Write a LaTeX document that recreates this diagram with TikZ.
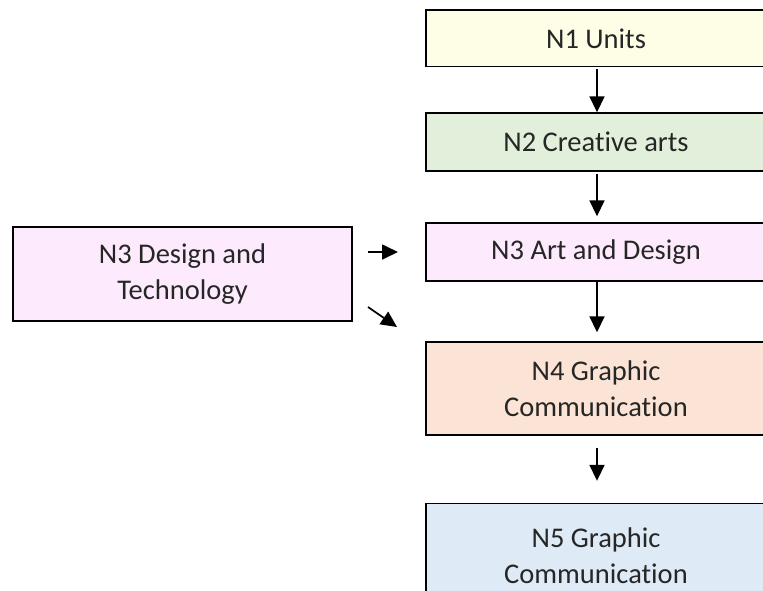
\documentclass[tikz,border=0pt]{standalone}
\usepackage{fontspec}
\setmainfont{Carlito}[RawFeature=-liga]
\usetikzlibrary{arrows.meta}
\definecolor{cyel}{HTML}{FEFDE6}
\definecolor{cgrn}{HTML}{E2EFDA}
\definecolor{cpnk}{HTML}{FDEBFD}
\definecolor{corg}{HTML}{FBE4D5}
\definecolor{cblu}{HTML}{DEEAF6}
\begin{document}
\begin{tikzpicture}[x=1pt,y=-1pt,
  box/.style={draw=black, line width=1.4pt, minimum width=340pt, align=center,
    inner sep=0pt, font=\fontsize{28.5}{36}\selectfont, text=black!85},
  arr/.style={line width=1.7pt, -{Triangle[length=16pt,width=15pt]}}]
\useasboundingbox (0,0) rectangle (763,590);
\node[box, fill=cyel, minimum height=56.5pt] (n1) at (596,38.3) {N1 Units};
\node[box, fill=cgrn, minimum height=58pt] (n2) at (596,142) {N2 Creative arts};
\node[box, fill=cpnk, minimum height=58pt] (n3) at (596,252) {N3 Art and Design};
\node[box, fill=corg, minimum height=93pt] (n4) at (596,388.5) {N4 Graphic\\Communication};
\node[box, fill=cblu, minimum height=105pt] (n5) at (596,556) {N5 Graphic\\Communication};
\node[box, fill=cpnk, minimum width=339pt, minimum height=94pt] (dt) at (182.5,274) {N3 Design and\\Technology};
\draw[arr, shorten <=2pt] ([xshift=1pt]n1.south) -- ([xshift=1pt]n2.north);
\draw[arr, shorten <=2pt, shorten >=6pt] ([xshift=1pt]n2.south) -- ([xshift=1pt]n3.north);
\draw[arr, shorten >=9pt] ([xshift=1pt]n3.south) -- ([xshift=1pt]n4.north);
\draw[arr, shorten <=12pt, shorten >=22pt] ([xshift=1pt]n4.south) -- ([xshift=1pt]n5.north);
\coordinate (a1s) at (368,252);
\coordinate (a1e) at (398,252);
\coordinate (a2s) at (368,307);
\coordinate (a2e) at (397,327);
\draw[arr] (a1s) -- (a1e);
\draw[arr] (a2s) -- (a2e);
\end{tikzpicture}
\end{document}
